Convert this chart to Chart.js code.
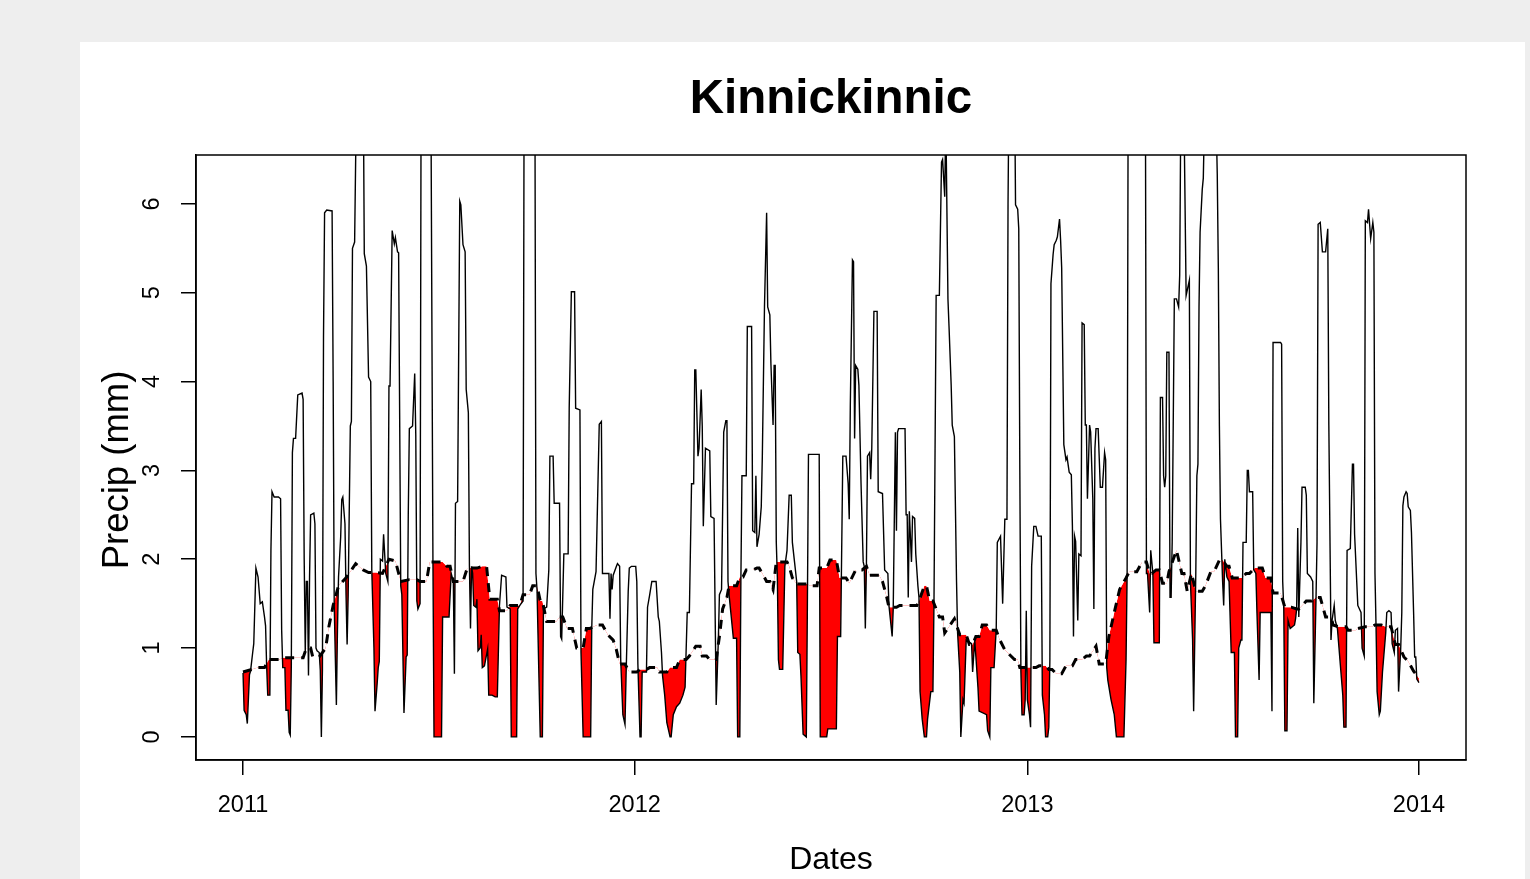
<!DOCTYPE html>
<html>
<head>
<meta charset="utf-8">
<script src="https://cdn.jsdelivr.net/npm/chart.js@4.4.1/dist/chart.umd.min.js"></script>
<style>
  html, body { margin: 0; padding: 0; background: #eeeeee; width: 1530px; height: 879px; overflow: hidden; }
  #panel { position: absolute; left: 80px; top: 42px; width: 1445px; height: 837px; background: #ffffff; }
  #c { position: absolute; left: 0; top: 0; }
</style>
</head>
<body>
<div id="panel"></div>
<canvas id="c" width="1530" height="879"></canvas>
<script>
// ---- Data (day 0 = 2011-01-01) ----
const chartTitle = 'Kinnickinnic';
const xAxisTitle = 'Dates';
const yAxisTitle = 'Precip (mm)';

const xTickDays = [0, 365, 731, 1096];
const xTickLabels = ['2011', '2012', '2013', '2014'];
const yTicks = [0, 1, 2, 3, 4, 5, 6];

// observed precipitation (mm), by day
const obsDays = [
0,1,3,4,6,7,9,10,12,14,16,18,20,21,22,23,25,26,27,29,33,35,36,37,39,40,42,43,44,45,46,47,49,51,55,56,57,58,59,60,61,62,63,66,67,68,69,71,72,73,74,75,76,78,83,84,85,86,87,88,89,91,92,93,95,96,97,98,100,101,102,104,106,112,113,115,117,119,120,122,123,125,126,127,128,130,131,133,135,136,137,139,141,142,144,145,147,148,150,152,153,154,155,158,160,161,162,163,165,166,175,177,178,185,186,192,194,196,197,198,200,202,203,205,207,208,210,211,212,213,214,215,217,218,219,221,222,223,225,228,229,232,235,237,239,241,245,246,249,250,255,256,258,261,262,272,273,274,277,279,280,283,285,286,289,290,295,296,297,299,303,304,306,309,310,314,315,317,324,325,326,329,332,334,335,338,341,342,343,344,345,348,349,351,352,354,356,357,359,360,362,366,367,368,370,371,372,376,377,379,381,385,387,388,390,391,393,395,398,399,401,404,407,410,412,414,416,418,420,421,422,424,425,427,428,429,431,435,436,439,441,443,444,446,448,450,451,452,453,457,460,461,463,464,465,469,470,474,475,477,478,479,481,483,484,486,488,489,491,492,494,495,496,497,498,499,500,503,505,507,509,511,512,514,516,517,519,520,522,525,526,527,537,538,544,545,553,554,557,559,562,564,565,566,568,569,570,571,573,574,576,578,579,580,581,582,584,585,586,588,591,592,596,598,601,602,605,606,608,609,610,611,617,618,619,620,621,623,624,626,627,629,630,631,633,635,637,638,641,643,644,646,649,651,652,654,655,657,658,660,661,663,665,666,668,669,671,672,674,679,680,682,683,685,686,693,694,696,697,700,702,703,706,708,710,712,713,714,719,720,722,723,724,725,726,728,729,730,731,733,734,735,737,739,741,744,745,747,748,750,751,752,753,755,756,758,759,761,762,763,765,767,768,770,772,773,774,775,776,778,779,781,782,784,785,786,787,789,790,792,793,794,795,797,799,801,803,804,805,806,809,812,814,821,823,824,825,841,842,843,845,846,848,849,854,855,857,858,859,860,861,863,864,865,866,868,870,872,873,874,877,879,882,883,885,886,888,889,890,891,892,894,895,897,906,908,909,910,911,913,914,915,917,919,921,924,925,927,928,930,931,932,935,936,937,938,941,942,944,945,947,948,958,959,960,967,968,969,970,971,973,974,976,980,981,982,983,984,986,987,990,991,992,995,997,998,1000,1001,1002,1004,1006,1009,1011,1012,1014,1015,1017,1018,1020,1025,1026,1028,1029,1032,1034,1035,1036,1039,1042,1043,1045,1046,1048,1049,1051,1053,1054,1055,1056,1057,1059,1060,1062,1065,1066,1068,1070,1071,1073,1074,1076,1077,1079,1080,1081,1082,1084,1085,1086,1088,1089,1091,1092,1093,1094,1096
];
const obsPrecip = [
0.72,0.30,0.25,0.15,0.70,0.74,0.95,1.05,1.90,1.80,1.50,1.52,1.35,1.25,0.80,0.47,0.47,2.10,2.76,2.70,2.70,2.68,1.20,0.78,0.78,0.30,0.30,0.05,0.02,0.80,3.20,3.36,3.36,3.85,3.87,3.80,2.00,0.95,1.75,1.75,0.69,1.80,2.50,2.52,2.40,1.00,0.97,0.95,0.75,0.00,0.75,4.50,5.90,5.93,5.92,4.00,1.48,0.90,0.36,1.20,1.80,2.25,2.67,2.70,2.40,1.60,1.04,1.60,3.50,3.55,5.50,5.57,7.50,7.50,5.44,5.30,4.05,4.00,1.88,1.00,0.29,0.60,0.78,0.85,2.00,1.98,2.28,1.84,1.75,3.95,3.95,5.70,5.55,5.62,5.46,5.45,1.70,1.60,0.27,0.90,0.92,2.50,3.47,3.50,4.09,3.40,1.53,1.44,1.50,7.50,7.50,1.97,0.00,0.00,1.35,1.35,1.84,1.75,0.71,2.63,2.65,6.03,5.99,5.54,5.46,3.91,3.65,1.92,1.22,1.92,1.84,1.48,1.46,1.55,0.97,1.00,1.15,0.78,0.80,0.99,0.47,0.47,0.45,0.45,1.48,1.82,1.80,1.46,1.44,0.00,0.00,1.44,1.48,1.53,7.50,7.50,1.84,1.66,0.00,0.00,1.44,1.46,1.88,3.16,3.16,2.63,2.63,1.13,1.10,2.06,2.06,3.70,5.01,5.01,3.70,3.68,0.95,0.00,0.00,1.22,1.66,1.86,3.52,3.55,1.84,1.84,1.84,1.33,1.84,1.66,1.82,1.92,1.95,1.92,0.87,0.25,0.14,0.69,1.64,1.90,1.92,1.92,1.75,0.82,0.00,0.00,0.73,0.73,1.46,1.60,1.75,1.75,1.35,1.30,0.95,0.69,0.47,0.16,0.00,0.00,0.25,0.34,0.38,0.47,0.56,1.40,1.40,2.85,2.85,4.13,4.13,3.16,3.25,3.91,3.50,2.37,3.25,3.22,2.48,2.46,0.36,1.09,1.60,1.66,3.43,3.56,3.56,1.75,1.60,1.11,1.11,0.00,0.00,1.75,2.94,2.94,4.62,4.62,2.32,2.30,2.94,2.14,2.28,2.59,3.16,4.84,5.90,4.84,4.75,4.20,3.51,4.18,4.18,2.19,1.80,0.87,0.76,0.76,1.92,2.10,2.72,2.72,2.19,1.97,1.75,0.95,0.93,0.69,0.03,0.00,1.50,3.18,3.18,0.00,0.00,0.09,0.09,1.13,1.13,3.16,3.16,2.85,2.45,3.73,5.37,5.35,3.36,4.18,4.14,3.96,2.85,1.97,1.92,1.22,1.92,3.16,3.20,2.90,3.25,4.79,4.79,2.76,2.74,1.88,1.84,1.48,1.13,1.44,3.43,2.32,3.43,3.47,3.47,2.50,2.50,1.57,2.54,1.97,2.48,2.46,2.06,1.70,1.57,0.51,0.20,0.00,0.00,0.20,0.51,0.51,1.53,4.97,4.97,6.47,6.50,6.08,7.00,4.93,4.62,3.96,3.51,3.38,1.75,1.17,0.73,0.00,0.42,0.38,1.09,1.05,0.73,1.09,0.91,0.55,0.29,0.25,0.07,0.00,0.78,0.78,1.22,2.19,2.26,1.50,2.45,2.45,6.00,7.50,7.50,5.99,5.94,5.72,3.00,0.73,0.25,0.25,0.42,1.42,0.42,0.25,0.11,1.92,2.37,2.37,2.26,2.26,0.47,0.25,0.00,0.00,0.11,0.87,5.10,5.43,5.54,5.59,5.63,5.83,5.59,5.28,3.29,3.12,3.15,2.98,2.95,2.37,1.13,2.26,2.20,1.31,2.06,2.04,4.66,4.64,3.51,3.51,2.68,3.51,3.43,2.68,1.44,3.25,3.47,3.47,2.81,2.81,3.20,3.12,0.78,0.64,0.42,0.25,0.00,0.00,0.87,1.84,7.50,7.50,1.84,1.84,1.40,2.10,1.84,1.06,1.06,3.82,3.82,2.94,2.81,2.94,4.33,4.33,1.57,1.57,2.19,4.93,4.93,4.84,5.20,7.00,7.00,4.97,5.14,1.75,1.10,0.29,1.84,2.94,3.07,4.84,5.68,6.16,6.29,7.50,7.50,6.34,5.28,3.50,2.45,1.75,1.48,2.00,1.80,1.75,0.95,0.95,0.00,0.00,1.00,1.09,1.09,2.19,2.19,3.00,3.00,2.76,2.76,1.88,1.84,1.40,0.64,1.40,1.40,0.29,4.44,4.44,4.42,1.75,1.44,0.07,0.07,1.31,1.22,1.26,1.33,1.44,2.35,1.35,2.19,2.81,2.81,2.72,1.84,1.80,1.75,0.38,1.53,2.19,5.77,5.79,5.46,5.46,5.72,3.51,1.09,1.31,1.48,1.31,1.22,0.47,0.11,0.11,2.10,2.12,3.07,3.07,2.28,1.48,1.40,1.00,0.91,5.81,5.79,5.94,5.61,5.79,5.68,1.84,1.24,0.51,0.25,0.29,0.73,1.17,1.40,1.42,1.40,1.05,0.95,1.20,1.22,0.51,1.00,1.40,2.60,2.70,2.76,2.74,2.59,2.55,2.30,1.40,0.90,0.90,0.65,0.61
];

// reference (dashed) precipitation (mm), by day
const refDays = [
0,14,20,24,34,37,56,59,63,65,71,77,80,84,89,96,105,112,117,124,130,136,142,147,155,162,165,171,174,186,190,193,196,205,209,218,223,227,230,237,239,246,249,258,261,267,270,274,277,279,283,292,295,298,302,307,311,317,320,323,330,335,340,345,348,351,356,360,367,370,376,379,386,388,395,398,404,407,413,416,422,426,428,432,435,441,444,447,451,453,460,463,466,469,475,479,481,484,488,491,494,497,507,509,512,516,526,528,535,537,544,547,553,556,562,565,571,577,581,584,593,596,600,602,609,612,628,630,635,637,640,643,649,652,654,663,668,674,677,680,683,686,689,693,696,702,705,710,719,722,724,727,733,739,742,748,751,754,758,763,767,773,776,782,786,789,795,798,804,807,812,817,823,826,833,838,842,845,847,851,854,857,861,863,870,875,877,880,884,888,894,897,902,905,910,913,917,919,922,931,935,938,943,950,953,958,960,967,971,977,982,984,991,996,1000,1004,1009,1014,1016,1021,1028,1030,1037,1039,1046,1052,1055,1061,1065,1070,1074,1077,1082,1086,1091,1096
];
const refPrecip = [
0.73,0.78,0.78,0.87,0.87,0.89,0.89,1.00,1.00,0.90,0.90,1.00,1.24,1.48,1.70,1.79,1.95,1.88,1.85,1.85,1.84,2.00,1.98,1.75,1.77,1.77,1.75,1.75,1.97,1.97,1.92,1.92,1.75,1.75,1.90,1.90,1.92,1.92,1.55,1.55,1.42,1.42,1.48,1.48,1.60,1.60,1.70,1.70,1.53,1.53,1.30,1.30,1.35,1.35,1.22,1.22,1.00,1.00,1.22,1.22,1.26,1.26,1.15,1.09,0.98,0.82,0.82,0.73,0.73,0.76,0.76,0.78,0.78,0.73,0.73,0.78,0.78,0.87,0.87,0.91,1.02,1.02,0.91,0.91,0.87,0.87,1.13,1.44,1.57,1.70,1.70,1.80,1.80,1.88,1.88,1.90,1.90,1.84,1.75,1.75,1.66,1.97,1.97,1.92,1.79,1.72,1.72,1.70,1.70,1.90,1.90,1.99,1.99,1.79,1.79,1.73,1.88,1.88,1.92,1.82,1.82,1.75,1.57,1.46,1.46,1.48,1.48,1.53,1.70,1.70,1.53,1.53,1.35,1.35,1.17,1.33,1.15,1.15,1.04,1.04,1.13,1.13,1.26,1.26,1.20,1.20,1.10,0.98,0.87,0.87,0.78,0.78,0.78,0.78,0.80,0.80,0.76,0.76,0.71,0.71,0.80,0.80,0.87,0.87,0.91,0.91,1.02,0.82,0.82,1.13,1.40,1.66,1.79,1.86,1.86,1.97,1.97,1.84,1.84,1.88,1.88,1.73,1.73,1.86,2.10,1.84,1.84,1.64,1.84,1.64,1.64,1.70,1.86,1.86,1.99,1.99,1.92,1.92,1.79,1.79,1.84,1.84,1.90,1.90,1.79,1.79,1.62,1.62,1.46,1.46,1.44,1.44,1.53,1.53,1.57,1.57,1.35,1.35,1.26,1.24,1.24,1.20,1.20,1.22,1.24,1.24,1.26,1.26,1.24,1.24,1.04,1.04,0.90,0.85,0.74,0.66
];

const xMin = -43.84, xMax = 1139.84;
const yMin = -0.26, yMax = 6.55;

const fam = 'Liberation Sans, Arial, sans-serif';
const tickFont = { family: fam, size: 23.5 };
const xLabFont = { family: fam, size: 32 };
const yLabFontSize = 36.5;

// y-axis title drawn as real canvas text, centred where the reference puts it
const yTitlePlugin = {
  id: 'yTitle',
  afterDraw(chart) {
    const ctx = chart.ctx;
    ctx.save();
    ctx.translate(118, 470);
    ctx.rotate(-Math.PI / 2);
    ctx.font = yLabFontSize + 'px ' + fam;
    ctx.fillStyle = '#000';
    ctx.textAlign = 'center';
    ctx.textBaseline = 'middle';
    ctx.fillText(yAxisTitle, 0, 0);
    ctx.restore();
  }
};

const boxPlugin = {
  id: 'box',
  afterDatasetsDraw(chart) {
    const a = chart.chartArea, ctx = chart.ctx;
    ctx.save();
    ctx.strokeStyle = '#000';
    ctx.lineWidth = 1.5;
    ctx.strokeRect(a.left, a.top, a.right - a.left, a.bottom - a.top);
    ctx.restore();
  }
};

new Chart(document.getElementById('c'), {
  type: 'line',
  data: {
    datasets: [
      {
        label: 'observed',
        data: obsDays.map((d, i) => ({ x: d, y: obsPrecip[i] })),
        borderColor: '#000000',
        borderWidth: 1.4,
        pointRadius: 0,
        tension: 0,
        fill: { target: 1, above: 'rgba(0,0,0,0)', below: '#ff0000' },
        order: 1
      },
      {
        label: 'reference',
        data: refDays.map((d, i) => ({ x: d, y: refPrecip[i] })),
        borderColor: '#000000',
        borderWidth: 3,
        borderDash: [9, 7],
        pointRadius: 0,
        tension: 0,
        fill: false,
        order: 0
      }
    ]
  },
  options: {
    responsive: false,
    animation: false,
    devicePixelRatio: 1,
    layout: { padding: { top: 0, left: 0, right: 64, bottom: 0 } },
    plugins: {
      legend: { display: false },
      tooltip: { enabled: false },
      title: {
        display: true,
        text: chartTitle,
        fullSize: false,
        color: '#000',
        font: { family: fam, size: 47.5, weight: 'bold', lineHeight: 1.2 },
        padding: { top: 71, bottom: 27 }
      }
    },
    scales: {
      x: {
        type: 'linear',
        min: xMin,
        max: xMax,
        afterBuildTicks: (s) => { s.ticks = xTickDays.map(v => ({ value: v })); },
        afterFit: (s) => { s.height = 119; },
        ticks: {
          autoSkip: false,
          maxRotation: 0,
          minRotation: 0,
          padding: 16,
          color: '#000',
          font: tickFont,
          callback: (v) => xTickLabels[xTickDays.indexOf(v)]
        },
        grid: { drawOnChartArea: false, drawTicks: true, tickLength: 15, color: '#000', lineWidth: 1.5 },
        border: { display: true, color: '#000', width: 1.5 },
        title: { display: true, text: xAxisTitle, color: '#000', font: xLabFont, padding: { top: 0, bottom: 0 } }
      },
      y: {
        type: 'linear',
        min: yMin,
        max: yMax,
        afterBuildTicks: (s) => { s.ticks = yTicks.map(v => ({ value: v })); },
        afterFit: (s) => { s.width = 196; },
        ticks: {
          minRotation: 90,
          maxRotation: 90,
          crossAlign: 'center',
          padding: 21.5,
          color: '#000',
          font: tickFont,
          callback: (v) => String(v)
        },
        grid: { drawOnChartArea: false, drawTicks: true, tickLength: 15, color: '#000', lineWidth: 1.5 },
        border: { display: true, color: '#000', width: 1.5 },
        title: { display: false }
      }
    }
  },
  plugins: [boxPlugin, yTitlePlugin]
});
</script>
</body>
</html>
